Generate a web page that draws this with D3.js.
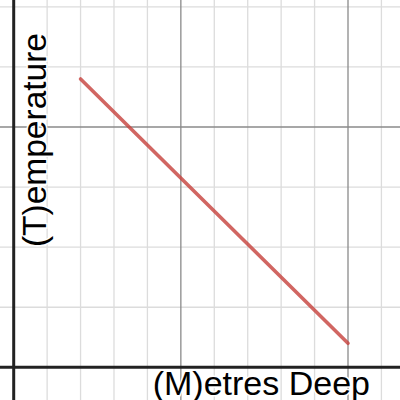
<!DOCTYPE html>
<html lang="en">
<head>
<meta charset="UTF-8">
<title>Temperature vs Depth</title>
<script src="https://d3js.org/d3.v7.min.js"></script>
<style>
  html, body { margin: 0; padding: 0; background: #fff; }
  svg { display: block; }
</style>
</head>
<body>
<svg id="chart"></svg>
<script>
// data
var depthValues = [4, 20];     // (M)etres Deep
var tempValues = [24, 2];      // (T)emperature
var xMinorTicks = [-2, 2, 4, 6, 8, 12, 14, 16, 18, 22, 24];
var xMajorTicks = [10, 20];
var yMinorTicks = [-5, 5, 10, 15, 25, 30];
var yMajorTicks = [20];
var xLabel = "(M)etres Deep", yLabel = "(T)emperature";

var width = 400, height = 400;

var x = d3.scaleLinear().domain([0, 20]).range([13.7, 348]);
var y = d3.scaleLinear().domain([0, 20]).range([367.3, 127]);

var svg = d3.select("#chart").attr("width", width).attr("height", height);

// grid lines
function vlines(ticks, color, w) {
    svg.append("g").selectAll("line").data(ticks).enter().append("line")
        .attr("x1", d => x(d)).attr("x2", d => x(d))
        .attr("y1", 0).attr("y2", height)
        .attr("stroke", color).attr("stroke-width", w);
}
function hlines(ticks, color, w) {
    svg.append("g").selectAll("line").data(ticks).enter().append("line")
        .attr("y1", d => y(d)).attr("y2", d => y(d))
        .attr("x1", 0).attr("x2", width)
        .attr("stroke", color).attr("stroke-width", w);
}
vlines(xMinorTicks, "#dcdcdc", 1.3);
hlines(yMinorTicks, "#dcdcdc", 1.3);
vlines(xMajorTicks, "#8a8a8a", 1.3);
hlines(yMajorTicks, "#8a8a8a", 1.3);

// axes
vlines([0], "#222", 3);
hlines([0], "#222", 3);

// the line
var pts = depthValues.map((d, i) => [d, tempValues[i]]);
var line = d3.line().x(d => x(d[0])).y(d => y(d[1]));
svg.append("path")
    .datum(pts)
    .attr("d", line)
    .attr("fill", "none")
    .attr("stroke", "#c74440")
    .attr("stroke-opacity", 0.82)
    .attr("stroke-width", 3.6)
    .attr("stroke-linecap", "round");

// axis labels with white halo
svg.append("text")
    .attr("x", 370).attr("y", 395)
    .attr("text-anchor", "end")
    .attr("font-family", "Liberation Sans, Arial, sans-serif")
    .attr("font-size", 34)
    .attr("fill", "#000")
    .attr("stroke", "#fff").attr("stroke-width", 3)
    .attr("paint-order", "stroke")
    .text(xLabel);

svg.append("text")
    .attr("transform", "translate(46,33) rotate(-90)")
    .attr("text-anchor", "end")
    .attr("font-family", "Liberation Sans, Arial, sans-serif")
    .attr("font-size", 33.5)
    .attr("fill", "#000")
    .attr("stroke", "#fff").attr("stroke-width", 3)
    .attr("paint-order", "stroke")
    .text(yLabel);
</script>
</body>
</html>
